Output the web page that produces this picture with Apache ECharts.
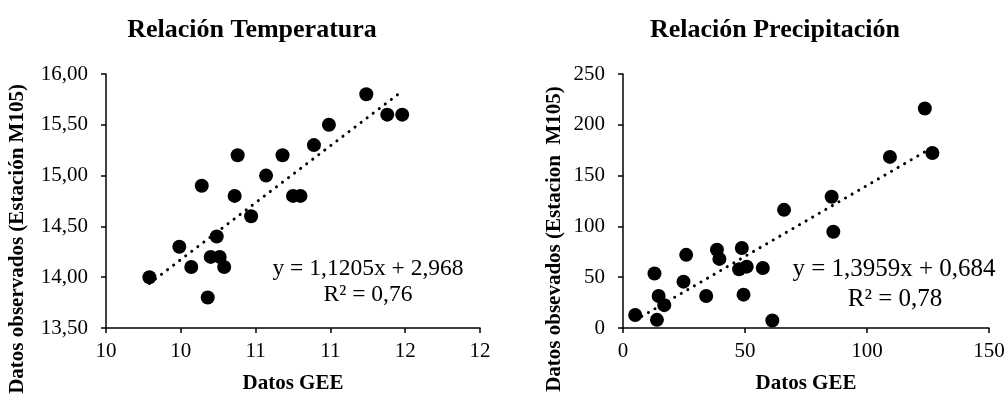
<!DOCTYPE html>
<html>
<head>
<meta charset="utf-8">
<script src="https://cdn.jsdelivr.net/npm/echarts@6/dist/echarts.min.js"></script>
<style>
  html, body { margin: 0; padding: 0; background: #fff; }
  #chart { width: 1008px; height: 399px; }
</style>
</head>
<body>
<div id="chart"></div>
<script>
// temperatura: datos GEE vs estación M105
var tempGee = [9.79, 9.99, 10.07, 10.14, 10.18, 10.20, 10.24, 10.26, 10.29, 10.36, 10.38,
               10.47, 10.57, 10.68, 10.75, 10.80, 10.89, 10.99, 11.24, 11.38, 11.48];
var tempObs = [14.00, 14.30, 14.10, 14.90, 13.80, 14.20, 14.40, 14.20, 14.10, 14.80, 15.20,
               14.60, 15.00, 15.20, 14.80, 14.80, 15.30, 15.50, 15.80, 15.60, 15.60];
var tempFit = [1.1205, 2.968];

// precipitación
var precGee = [5.0, 12.9, 13.9, 14.6, 16.9, 24.8, 25.9, 34.1, 38.5, 39.5, 47.6,
               48.7, 49.4, 50.7, 57.3, 61.2, 66.0, 85.5, 86.2, 109.4, 123.7, 126.8];
var precObs = [12.8, 53.6, 8.0, 31.5, 22.5, 45.6, 72, 31.5, 77, 68, 57.8,
               78.7, 32.8, 60.4, 59.1, 7.4, 116.3, 129.2, 94.8, 168.4, 216, 172.3];
var precFit = [1.3959, 0.684];

var FONT = 'Liberation Serif';

function pairs(xs, ys) {
  return xs.map(function (x, i) { return [x, ys[i]]; });
}
function trend(xs, fit) {
  var lo = Math.min.apply(null, xs), hi = Math.max.apply(null, xs);
  return [[lo, fit[0] * lo + fit[1]], [hi, fit[0] * hi + fit[1]]];
}

function xAxis(idx, min, max, step, fmt) {
  return {
    type: 'value', gridIndex: idx, min: min, max: max, interval: step,
    name: 'Datos GEE', nameLocation: 'middle', nameGap: 45,
    nameTextStyle: { fontFamily: FONT, fontSize: 21, fontWeight: 'bold', color: '#000' },
    axisLine: { lineStyle: { color: '#000', width: 1.5 } },
    axisTick: { show: true, length: 5, lineStyle: { color: '#000', width: 1.5 } },
    axisLabel: { fontFamily: FONT, fontSize: 21, color: '#000', margin: 13, formatter: fmt },
    splitLine: { show: false }
  };
}
function yAxis(idx, min, max, step, fmt) {
  return {
    type: 'value', gridIndex: idx, min: min, max: max, interval: step,
    axisLine: { show: true, lineStyle: { color: '#000', width: 1.5 } },
    axisTick: { show: true, length: 5, lineStyle: { color: '#000', width: 1.5 } },
    axisLabel: { fontFamily: FONT, fontSize: 21, color: '#000', margin: 18, formatter: fmt },
    splitLine: { show: false }
  };
}

var dotLine = { color: '#000', width: 3, type: [0.1, 7.5], cap: 'round' };
var titleStyle = { fontFamily: FONT, fontSize: 26, fontWeight: 'bold', color: '#000' };
var eqStyle = function (txt, size) {
  return { text: txt, fontFamily: FONT, fontSize: size, fill: '#000',
           textAlign: 'center', textVerticalAlign: 'middle' };
};
var ynameStyle = function (txt) {
  return { text: txt, fontFamily: FONT, fontSize: 21, fontWeight: 'bold', fill: '#000',
           textAlign: 'center', textVerticalAlign: 'middle' };
};

var chart = echarts.init(document.getElementById('chart'));
chart.setOption({
  backgroundColor: '#fff',
  animation: false,
  title: [
    { text: 'Relación Temperatura', left: 247, top: 12, textAlign: 'center', textStyle: titleStyle },
    { text: 'Relación Precipitación', left: 770, top: 12, textAlign: 'center', textStyle: titleStyle }
  ],
  grid: [
    { left: 106, top: 74, width: 374, height: 259 },
    { left: 623, top: 74, width: 366, height: 259 }
  ],
  xAxis: [
    xAxis(0, 9.5, 12, 0.5, function (v) { return String(Math.round(v)); }),
    xAxis(1, 0, 150, 50)
  ],
  yAxis: [
    yAxis(0, 13.5, 16, 0.5, function (v) { return v.toFixed(2).replace('.', ','); }),
    yAxis(1, 0, 250, 50)
  ],
  graphic: [
    { type: 'text', x: 18, y: 239, rotation: Math.PI / 2, style: ynameStyle('Datos observados (Estación M105)') },
    { type: 'text', x: 555, y: 239, rotation: Math.PI / 2, style: ynameStyle('Datos obsevados (Estacion  M105)') },
    { type: 'text', x: 368, y: 269, style: eqStyle('y = 1,1205x + 2,968', 23.5) },
    { type: 'text', x: 368, y: 295, style: eqStyle('R² = 0,76', 23.5) },
    { type: 'text', x: 894, y: 269, style: eqStyle('y = 1,3959x + 0,684', 25) },
    { type: 'text', x: 895, y: 299, style: eqStyle('R² = 0,78', 25) }
  ],
  series: [
    { type: 'line', xAxisIndex: 0, yAxisIndex: 0, data: trend(tempGee, tempFit),
      symbol: 'none', lineStyle: dotLine, z: 1 },
    { type: 'scatter', xAxisIndex: 0, yAxisIndex: 0, data: pairs(tempGee, tempObs),
      symbolSize: 14, itemStyle: { color: '#000', opacity: 1 }, z: 2 },
    { type: 'line', xAxisIndex: 1, yAxisIndex: 1, data: trend(precGee, precFit),
      symbol: 'none', lineStyle: dotLine, z: 1 },
    { type: 'scatter', xAxisIndex: 1, yAxisIndex: 1, data: pairs(precGee, precObs),
      symbolSize: 14, itemStyle: { color: '#000', opacity: 1 }, z: 2 }
  ]
});
</script>
</body>
</html>
